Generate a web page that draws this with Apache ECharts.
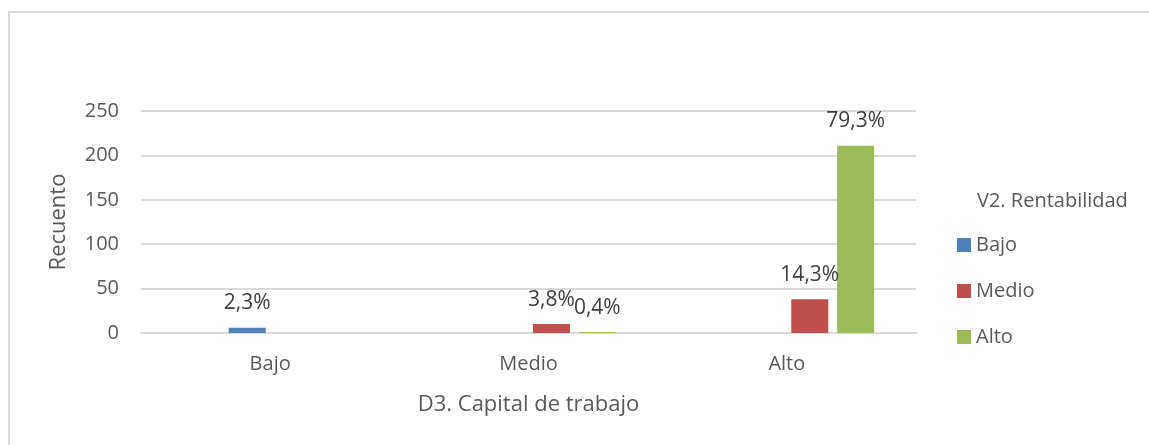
<!DOCTYPE html>
<html>
<head>
<meta charset="utf-8">
<script src="https://cdn.jsdelivr.net/npm/echarts@6/dist/echarts.min.js"></script>
<style>
  html, body { margin: 0; padding: 0; background: #fff; }
  #chart { width: 1149px; height: 445px; }
</style>
</head>
<body>
<div id="chart"></div>
<script>
// categorías del eje X
var categories = ['Bajo', 'Medio', 'Alto']
// recuentos por serie (V2. Rentabilidad)
var bajoValues = [6, 0, 0]
var medioValues = [0, 10, 38]
var altoValues = [0, 1, 211]
// etiquetas de porcentaje
var bajoLabels = ['2,3%', '', '']
var medioLabels = ['', '3,8%', '14,3%']
var altoLabels = ['', '0,4%', '79,3%']
var yTicks = [0, 50, 100, 150, 200, 250]

var textColor = '#595959'
var font = 'Open Sans'

function pctLabel (labels) {
  return {
    show: true,
    position: 'top',
    distance: 14,
    fontFamily: font,
    fontSize: 21,
    color: '#404040',
    formatter: function (p) { return labels[p.dataIndex] }
  }
}

var chart = echarts.init(document.getElementById('chart'))
chart.setOption({
  animation: false,
  backgroundColor: '#fff',
  graphic: [
    {
      type: 'rect',
      shape: { x: 9, y: 12, width: 1200, height: 500 },
      style: { fill: 'none', stroke: '#D9D9D9', lineWidth: 2 },
      silent: true
    }
  ],
  title: {
    text: 'V2. Rentabilidad',
    left: 972,
    top: 186,
    textStyle: { fontFamily: font, fontSize: 20, fontWeight: 'normal', color: textColor }
  },
  legend: {
    data: ['Bajo', 'Medio', 'Alto'],
    orient: 'vertical',
    left: 952,
    top: 229,
    icon: 'rect',
    itemWidth: 14,
    itemHeight: 14,
    itemGap: 24,
    textStyle: { fontFamily: font, fontSize: 20, color: textColor, lineHeight: 22 }
  },
  grid: { left: 141, right: 233, top: 111, bottom: 112 },
  xAxis: {
    type: 'category',
    data: categories,
    name: 'D3. Capital de trabajo',
    nameLocation: 'middle',
    nameGap: 61,
    nameTextStyle: { fontFamily: font, fontSize: 22, color: textColor },
    axisLine: { lineStyle: { color: '#D9D9D9', width: 2 } },
    axisTick: { show: false },
    axisLabel: { fontFamily: font, fontSize: 20, color: textColor, margin: 21 }
  },
  yAxis: {
    type: 'value',
    min: yTicks[0],
    max: yTicks[yTicks.length - 1],
    interval: yTicks[1] - yTicks[0],
    name: 'Recuento',
    nameLocation: 'middle',
    nameGap: 71,
    nameTextStyle: { fontFamily: font, fontSize: 22, color: textColor },
    axisLine: { show: false },
    axisTick: { show: false },
    axisLabel: { fontFamily: font, fontSize: 20, color: textColor, margin: 22 },
    splitLine: { lineStyle: { color: '#D9D9D9', width: 2 } }
  },
  series: [
    // serie vacía: Excel reserva ese hueco en cada grupo
    { name: '', type: 'bar', data: ['-', '-', '-'], barWidth: 37, barGap: '24%' },
    { name: 'Bajo', type: 'bar', data: bajoValues, itemStyle: { color: '#4F81BD' }, label: pctLabel(bajoLabels), barWidth: 37, barGap: '24%' },
    { name: 'Medio', type: 'bar', data: medioValues, itemStyle: { color: '#C0504D' }, label: pctLabel(medioLabels), barWidth: 37, barGap: '24%' },
    { name: 'Alto', type: 'bar', data: altoValues, itemStyle: { color: '#9BBB59' }, label: pctLabel(altoLabels), barWidth: 37, barGap: '24%' }
  ]
})
</script>
</body>
</html>
